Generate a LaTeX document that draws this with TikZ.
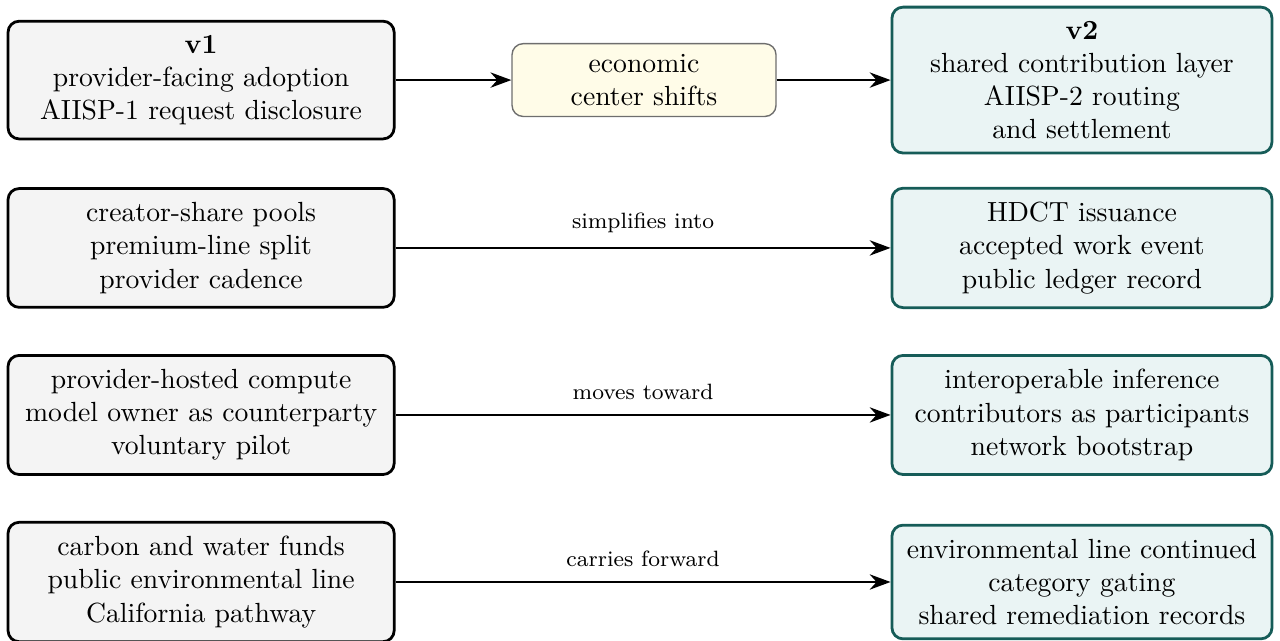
\documentclass[tikz,border=0pt]{standalone}
\usetikzlibrary{arrows.meta}
\definecolor{leftfill}{RGB}{244,244,244}
\definecolor{midfill}{RGB}{255,252,232}
\definecolor{midedge}{RGB}{110,110,110}
\definecolor{rightfill}{RGB}{234,244,244}
\definecolor{rightedge}{RGB}{22,92,88}
\tikzset{
  oldbox/.style={draw=black, line width=1pt, fill=leftfill, rounded corners=4pt,
    align=center, minimum width=139.4pt, inner xsep=5pt, inner ysep=5pt},
  newbox/.style={draw=rightedge, line width=1pt, fill=rightfill, rounded corners=4pt,
    align=center, minimum width=137.2pt, inner xsep=5pt, inner ysep=5pt},
  shiftbox/.style={draw=midedge, line width=0.5pt, fill=midfill, rounded corners=4pt,
    align=center, minimum width=95.3pt, inner xsep=5pt, inner ysep=3.8pt},
  flow/.style={-{Stealth[length=7.5pt,width=5.5pt]}, line width=1pt, black},
  flowlabel/.style={above=1.8pt, font=\footnotesize, text=black}
}
\begin{document}
\begin{tikzpicture}
\useasboundingbox (0pt,0pt) rectangle (462.1pt,-231.4pt);
% row 1
\node[oldbox] (v1) at (72.6pt,-28.9pt) {\textbf{v1}\\provider-facing adoption\\AIISP-1 request disclosure};
\node[shiftbox] (shift) at (232.5pt,-28.9pt) {economic\\center shifts};
\node[newbox] (v2) at (390.6pt,-28.9pt) {\textbf{v2}\\shared contribution layer\\AIISP-2 routing\\and settlement};
\draw[flow] (v1.east) -- (shift.west);
\draw[flow] (shift.east) -- (v2.west);
% row 2
\node[oldbox] (a1) at (72.6pt,-89.5pt) {creator-share pools\\premium-line split\\provider cadence};
\node[newbox] (a2) at (390.6pt,-89.5pt) {HDCT issuance\\accepted work event\\public ledger record};
\draw[flow] (a1.east) -- node[flowlabel] {simplifies into} (a2.west);
% row 3
\node[oldbox] (b1) at (72.6pt,-149.8pt) {provider-hosted compute\\model owner as counterparty\\voluntary pilot};
\node[newbox] (b2) at (390.6pt,-149.8pt) {interoperable inference\\contributors as participants\\network bootstrap};
\draw[flow] (b1.east) -- node[flowlabel] {moves toward} (b2.west);
% row 4
\node[oldbox] (c1) at (72.6pt,-210.1pt) {carbon and water funds\\public environmental line\\California pathway};
\node[newbox] (c2) at (390.6pt,-210.1pt) {environmental line continued\\category gating\\shared remediation records};
\draw[flow] (c1.east) -- node[flowlabel] {carries forward} (c2.west);
\end{tikzpicture}
\end{document}
